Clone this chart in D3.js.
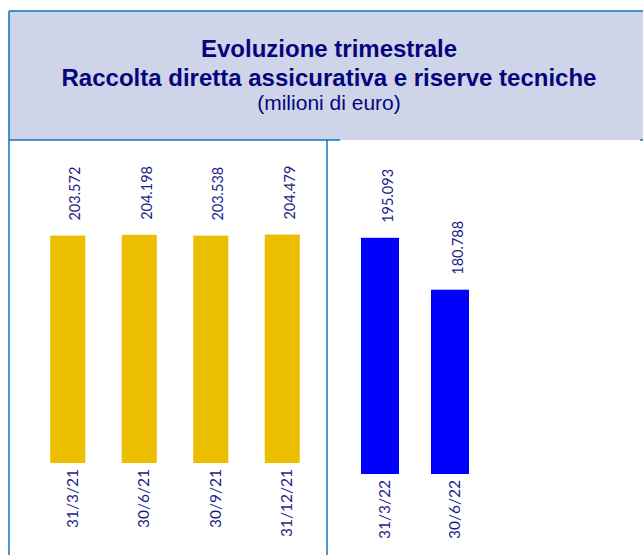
<!DOCTYPE html>
<html>
<head>
<meta charset="utf-8">
<script src="https://cdn.jsdelivr.net/npm/d3@7/dist/d3.min.js"></script>
<style>
  html, body { margin: 0; padding: 0; background: #fff; }
  svg { display: block; }
</style>
</head>
<body>
<svg id="chart" width="643" height="555"></svg>
<script>
// Quarterly figures, 2021 (left panel) and 2022 (right panel)
const categories2021 = ["31/3/21", "30/6/21", "30/9/21", "31/12/21"];
const values2021 = [203.572, 204.198, 203.538, 204.479];
const categories2022 = ["31/3/22", "30/6/22"];
const values2022 = [195.093, 180.788];
const valueLabels2021 = ["203.572", "204.198", "203.538", "204.479"];
const valueLabels2022 = ["195.093", "180.788"];

const titleLines = ["Evoluzione trimestrale", "Raccolta diretta assicurativa e riserve tecniche"];
const subtitle = "(milioni di euro)";

const frameBlue = "#0A72C2";
const textNavy = "#1E1E8A";
const titleNavy = "#05057E";

const svg = d3.select("#chart");

// Header band
svg.append("rect")
  .attr("x", 9).attr("y", 11).attr("width", 634).attr("height", 129)
  .attr("fill", "#CFD5E8");

const frame = svg.append("g")
  .attr("stroke", frameBlue).attr("stroke-width", 1.5).attr("fill", "none");
frame.append("line").attr("x1", 9).attr("y1", 11).attr("x2", 643).attr("y2", 11);
frame.append("line").attr("x1", 9).attr("y1", 11).attr("x2", 9).attr("y2", 555);
frame.append("line").attr("x1", 9).attr("y1", 140).attr("x2", 340).attr("y2", 140);
frame.append("line").attr("x1", 327).attr("y1", 140).attr("x2", 327).attr("y2", 555);
frame.append("line").attr("x1", 640).attr("y1", 140).attr("x2", 643).attr("y2", 140);

// Titles
const titleG = svg.append("g").attr("text-anchor", "middle")
  .attr("font-family", "'Liberation Sans', Arial, sans-serif").attr("fill", titleNavy);
titleG.selectAll("text.t").data(titleLines).join("text")
  .attr("class", "t")
  .attr("x", 329).attr("y", (d, i) => 57 + i * 29)
  .attr("font-size", 24).attr("font-weight", "bold")
  .text(d => d);
titleG.append("text")
  .attr("x", 329).attr("y", 110)
  .attr("font-size", 21)
  .text(subtitle);

function panel(cats, vals, labels, xRange, pInner, pOuter, yDomain, yRange, color) {
  const x = d3.scaleBand().domain(cats).range(xRange)
    .paddingInner(pInner).paddingOuter(pOuter);
  const y = d3.scaleLinear().domain(yDomain).range(yRange);
  const data = cats.map((c, i) => ({ c, v: vals[i], label: labels[i] }));
  const g = svg.append("g");

  g.selectAll("rect.bar").data(data).join("rect")
    .attr("class", "bar")
    .attr("x", d => x(d.c))
    .attr("width", x.bandwidth())
    .attr("y", d => y(d.v))
    .attr("height", d => y(yDomain[0]) - y(d.v))
    .attr("fill", color);

  // Value labels, vertical above each bar
  g.selectAll("text.val").data(data).join("text")
    .attr("class", "val")
    .attr("transform", d => `translate(${x(d.c) + x.bandwidth() / 2 + 12.5},${y(d.v) - 15}) rotate(-90)`)
    .attr("text-anchor", "start")
    .attr("font-family", "Lato, 'Open Sans', sans-serif")
    .attr("font-size", 14.5)
    .attr("fill", textNavy)
    .text(d => d.label);

  // Category axis below the bars
  const axis = g.append("g")
    .attr("transform", `translate(0,${y(yDomain[0])})`)
    .call(d3.axisBottom(x).tickSize(0));
  axis.select(".domain").remove();
  axis.selectAll(".tick text")
    .attr("transform", "translate(10,6) rotate(-90)")
    .attr("x", 0).attr("y", 0).attr("dy", null)
    .attr("text-anchor", "end")
    .attr("font-family", "Lato, 'Open Sans', sans-serif")
    .attr("font-size", 15.5)
    .attr("fill", textNavy);
}

panel(categories2021, values2021, valueLabels2021, [32, 318], 0.51, 0.255,
  [0, 250], [463, 183.7], "#EBBE00");
panel(categories2022, values2022, valueLabels2022, [345, 485], 0.457, 0.2285,
  [130, 200], [474, 220], "#0000FF");
</script>
</body>
</html>
